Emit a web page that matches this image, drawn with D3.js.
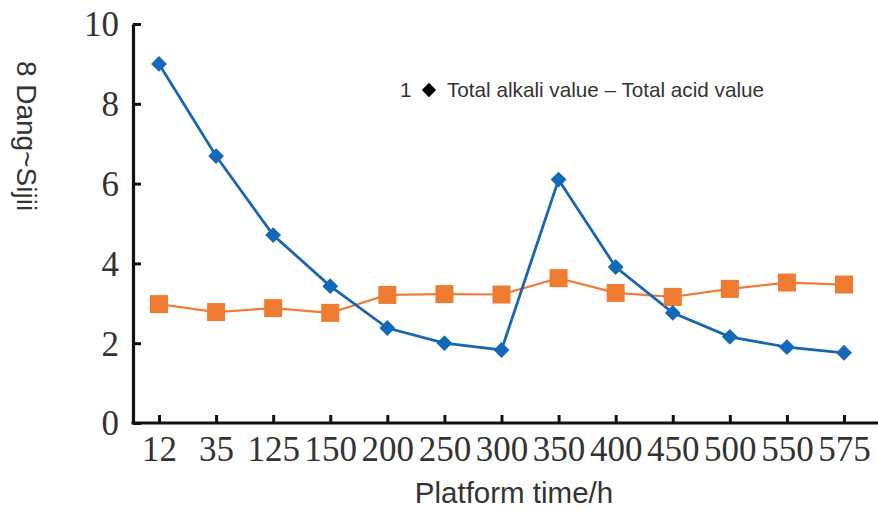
<!DOCTYPE html>
<html>
<head>
<meta charset="utf-8">
<script src="https://cdn.jsdelivr.net/npm/d3@7/dist/d3.min.js"></script>
<style>
  html, body { margin: 0; padding: 0; background: #fff; }
  svg { display: block; }
</style>
</head>
<body>
<svg id="chart" width="878" height="511"></svg>
<script>
// Platform time (h) categories
const hours = ["12", "35", "125", "150", "200", "250", "300", "350", "400", "450", "500", "550", "575"];
// Total alkali value - total acid value (blue diamonds)
const alkaliMinusAcid = [9.0, 6.69, 4.71, 3.43, 2.38, 2.0, 1.83, 6.1, 3.91, 2.76, 2.16, 1.9, 1.76];
// Second series (orange squares)
const secondSeries = [2.98, 2.78, 2.88, 2.76, 3.21, 3.23, 3.22, 3.63, 3.26, 3.16, 3.36, 3.52, 3.47];
// Y tick values
const yTicks = [0, 2, 4, 6, 8, 10];

const svg = d3.select("#chart");

const x = d3.scalePoint().domain(hours).range([159, 844]);
const y = d3.scaleLinear().domain([0, 10]).range([423, 24]);

const serif = "'Liberation Serif', 'Times New Roman', serif";
const sans = "'Liberation Sans', Arial, sans-serif";

// Y axis (ticks pointing inward)
const yAxis = svg.append("g")
  .attr("transform", `translate(${133},0)`)
  .call(d3.axisLeft(y).tickValues(yTicks).tickSize(-8).tickSizeOuter(0).tickPadding(14));
yAxis.select(".domain").attr("stroke", "#111").attr("stroke-width", 3.2);
yAxis.selectAll(".tick line").attr("stroke", "#111").attr("stroke-width", 3);
yAxis.selectAll(".tick text")
  .attr("font-family", serif).attr("font-size", 35).attr("fill", "#333")
  .attr("dy", "0.34em");

// X axis (ticks pointing inward), baseline extends to the right edge
const xAxis = svg.append("g")
  .attr("transform", `translate(0,${423})`)
  .call(d3.axisBottom(x).tickSize(-8).tickSizeOuter(0).tickPadding(6));
xAxis.select(".domain").remove();
xAxis.append("line")
  .attr("x1", 131.5).attr("x2", 878).attr("y1", 0).attr("y2", 0)
  .attr("stroke", "#111").attr("stroke-width", 3.2);
xAxis.selectAll(".tick line").attr("stroke", "#111").attr("stroke-width", 3);
xAxis.selectAll(".tick text")
  .attr("font-family", serif).attr("font-size", 35).attr("fill", "#333")
  .attr("dy", "0.9em");

// Axis titles
svg.append("text")
  .attr("x", 514).attr("y", 503)
  .attr("text-anchor", "middle")
  .attr("font-family", sans).attr("font-size", 29.5).attr("fill", "#333")
  .text("Platform time/h");

svg.append("text")
  .attr("transform", `translate(17,136) rotate(90)`)
  .attr("text-anchor", "middle")
  .attr("font-family", sans).attr("font-size", 28).attr("fill", "#333")
  .text("8 Dang~Sijii");

// Lines
const line = d3.line()
  .x((d, i) => x(hours[i]))
  .y(d => y(d));

svg.append("path")
  .datum(secondSeries)
  .attr("d", line)
  .attr("fill", "none")
  .attr("stroke", "#ee7d3a")
  .attr("stroke-width", 2.2);

svg.append("path")
  .datum(alkaliMinusAcid)
  .attr("d", line)
  .attr("fill", "none")
  .attr("stroke", "#1a67b0")
  .attr("stroke-width", 2.8);

// Markers
svg.selectAll(".sq")
  .data(secondSeries)
  .join("rect")
  .attr("class", "sq")
  .attr("x", (d, i) => x(hours[i]) - 9)
  .attr("y", d => y(d) - 9)
  .attr("width", 18).attr("height", 18)
  .attr("fill", "#ef7b30");

const diamond = d3.symbol().type(d3.symbolDiamond2).size(160);
svg.selectAll(".dm")
  .data(alkaliMinusAcid)
  .join("path")
  .attr("class", "dm")
  .attr("transform", (d, i) => `translate(${x(hours[i])},${y(d)})`)
  .attr("d", diamond)
  .attr("fill", "#1468b8");

// Legend
const legend = svg.append("g").attr("transform", "translate(400,97)");
legend.append("text")
  .attr("x", 0).attr("y", 0)
  .attr("font-family", sans).attr("font-size", 20.7).attr("fill", "#333")
  .text("1");
legend.append("path")
  .attr("transform", "translate(29,-7)")
  .attr("d", d3.symbol().type(d3.symbolDiamond2).size(130))
  .attr("fill", "#000");
legend.append("text")
  .attr("x", 47).attr("y", 0)
  .attr("font-family", sans).attr("font-size", 20.7).attr("fill", "#333")
  .text("Total alkali value \u2013 Total acid value");
</script>
</body>
</html>
